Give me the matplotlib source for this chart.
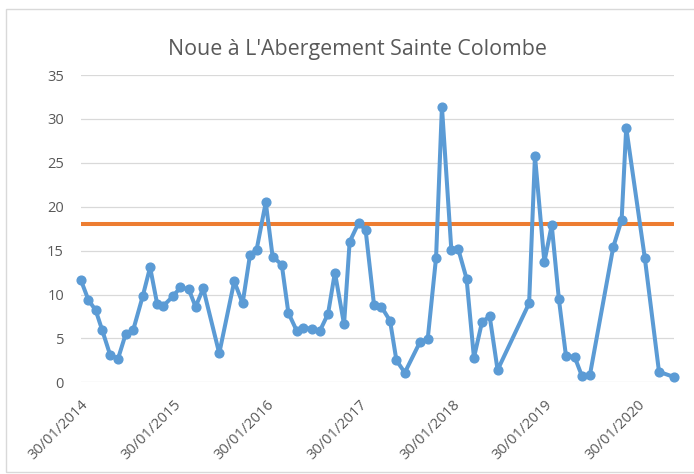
import matplotlib
matplotlib.use("Agg")
import matplotlib.pyplot as plt
from matplotlib.patches import Rectangle
import pandas as pd

dates = ["2014-01-30", "2014-03-01", "2014-03-30", "2014-04-25", "2014-05-26", "2014-06-26",
         "2014-07-26", "2014-08-24", "2014-10-01", "2014-10-30", "2014-11-27", "2014-12-21",
         "2015-01-28", "2015-02-26", "2015-03-31", "2015-04-27", "2015-05-27", "2015-07-29",
         "2015-09-26", "2015-10-29", "2015-11-27", "2015-12-23", "2016-01-28", "2016-02-24",
         "2016-03-31", "2016-04-26", "2016-05-30", "2016-06-24", "2016-07-28", "2016-08-27",
         "2016-09-29", "2016-10-26", "2016-12-01", "2016-12-23", "2017-01-28", "2017-02-24",
         "2017-03-29", "2017-04-27", "2017-05-31", "2017-06-25", "2017-07-28", "2017-09-26",
         "2017-10-26", "2017-11-28", "2017-12-21", "2018-01-27", "2018-02-23", "2018-03-28",
         "2018-04-26", "2018-05-28", "2018-06-27", "2018-07-28", "2018-11-29", "2018-12-22",
         "2019-01-28", "2019-02-26", "2019-03-26", "2019-04-23", "2019-05-27", "2019-06-25",
         "2019-07-26", "2019-10-26", "2019-11-28", "2019-12-16", "2020-02-27", "2020-04-23",
         "2020-06-21"]
values = [11.7, 9.4, 8.2, 5.9, 3.1, 2.7, 5.5, 5.9, 9.8, 13.1, 8.9, 8.7,
          9.8, 10.8, 10.6, 8.6, 10.7, 3.3, 11.5, 9.0, 14.5, 15.1, 20.5, 14.3,
          13.4, 7.9, 5.8, 6.2, 6.1, 5.8, 7.8, 12.5, 6.6, 16.0, 18.2, 17.3,
          8.8, 8.6, 7.0, 2.5, 1.1, 4.6, 4.9, 14.2, 31.4, 15.1, 15.2, 11.8,
          2.8, 6.9, 7.5, 1.4, 9.0, 25.8, 13.7, 17.9, 9.5, 3.0, 2.9, 0.7,
          0.8, 15.4, 18.5, 29.0, 14.2, 1.2, 0.6]
threshold = 18
tick_dates = ["2014-01-30", "2015-01-30", "2016-01-30", "2017-01-30",
              "2018-01-30", "2019-01-30", "2020-01-30"]
title = "Noue à L'Abergement Sainte Colombe"

plt.rcParams['font.family'] = ['Open Sans', 'DejaVu Sans']
W, H = 694, 474
fig = plt.figure(figsize=(W / 100, H / 100), dpi=100)

# chart area border
fig.patches.append(Rectangle((6 / W, 2 / H), (W + 10) / W, (H - 11) / H, transform=fig.transFigure,
                             fill=False, edgecolor='#D9D9D9', linewidth=1.0, zorder=0))

left, right = 80.7 / W, 674 / W
bottom, top = (H - 382.3) / H, (H - 75) / H
ax = fig.add_axes([left, bottom, right - left, top - bottom])

x = pd.to_datetime(dates)
ax.plot(x, values, color='#5B9BD5', linewidth=2.9, marker='o', markersize=6.3,
        markerfacecolor='#5B9BD5', markeredgecolor='#5B9BD5', zorder=3, clip_on=False)
ax.plot([x[0], x[-1]], [threshold, threshold], color='#ED7D31', linewidth=2.9, zorder=2,
        solid_capstyle='butt', clip_on=False)

ax.set_xlim(x[0], x[-1])
ax.set_ylim(0, 35)
ax.set_yticks(range(0, 36, 5))
ax.grid(axis='y', color='#D9D9D9', linewidth=0.9)
ax.set_axisbelow(True)
for s in ['top', 'right', 'left', 'bottom']:
    ax.spines[s].set_visible(False)
ax.tick_params(axis='both', length=0, colors='#595959', labelsize=10.5)
ax.tick_params(axis='y', pad=12)

ticks = pd.to_datetime(tick_dates)
ax.set_xticks(ticks)
ax.set_xticklabels([t.strftime('%d/%m/%Y') for t in ticks], rotation=45, ha='right',
                   rotation_mode='anchor')
ax.tick_params(axis='x', pad=11)

fig.text(357 / W, 1 - 50 / H, title, ha='center', va='center', fontsize=15.4, color='#595959')

fig.savefig('out.png', dpi=100)
